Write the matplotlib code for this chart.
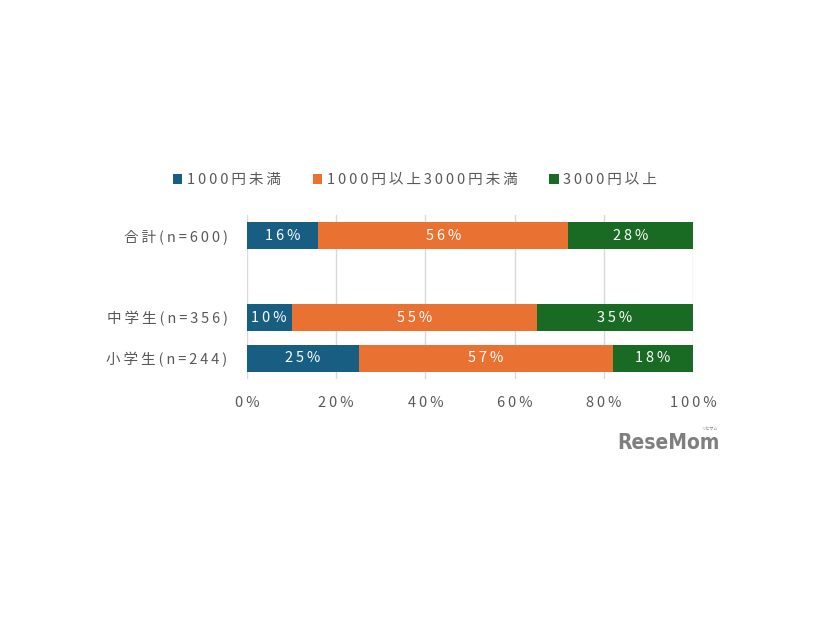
import matplotlib
matplotlib.use("Agg")
import matplotlib.pyplot as plt
from matplotlib.patches import Patch

plt.rcParams['font.family'] = ['Noto Sans CJK JP', 'DejaVu Sans']

categories = ['合計(n=600)', '中学生(n=356)', '小学生(n=244)']
positions = [3, 1, 0]
series_names = ['1000円未満', '1000円以上3000円未満', '3000円以上']
series_values = [
    [16, 10, 25],
    [56, 55, 57],
    [28, 35, 18],
]
colors = ['#175E82', '#E97132', '#196B24']
xticks = [0, 20, 40, 60, 80, 100]
xtick_labels = ['0%', '20%', '40%', '60%', '80%', '100%']

text_color = '#595959'


def sp(s):
    # letter spacing via thin spaces
    return '\u2009'.join(s)


fig = plt.figure(figsize=(8.26, 6.20), dpi=100)
ax = fig.add_axes([247/826, 1-379/620, (693-247)/826, (379-215)/620])

left = [0, 0, 0]
for name, vals, c in zip(series_names, series_values, colors):
    ax.barh(positions, vals, left=left, height=0.66, color=c, label=name, zorder=3)
    for p, v, l in zip(positions, vals, left):
        ax.text(l + v/2, p, sp(f'{v}%'), ha='center', va='center', color='white',
                fontsize=10.5, zorder=4)
    left = [a + b for a, b in zip(left, vals)]

ax.set_xlim(0, 100)
ax.set_ylim(-0.5, 3.5)
ax.set_xticks(xticks)
ax.set_xticklabels([sp(t) for t in xtick_labels])
ax.set_yticks(positions)
ax.set_yticklabels([sp(t) for t in categories])
ax.tick_params(axis='both', length=0, labelsize=10.5, labelcolor=text_color)
ax.tick_params(axis='y', pad=14)
ax.tick_params(axis='x', pad=12)
ax.grid(axis='x', color='#D9D9D9', linewidth=1, zorder=0)
for s in ax.spines.values():
    s.set_visible(False)

handles = [Patch(facecolor=c, edgecolor='none') for c in colors]
fig.legend(handles, [sp(n) for n in series_names], loc='center',
           bbox_to_anchor=(415/826, 1-180/620),
           ncol=3, frameon=False, fontsize=10.5, labelcolor=text_color,
           handlelength=0.65, handleheight=0.65, handletextpad=0.3, columnspacing=2.2)

fig.text(720/826, 1-443/620, 'ReseMom', ha='right', va='center', fontsize=15,
         fontweight='bold', color='#7f7f7f', family='DejaVu Sans', fontstretch='condensed')
fig.text(709/826, 1-429/620, 'リセマム', ha='center', va='center', fontsize=3,
         color='#7f7f7f')

fig.savefig('out.png', dpi=100)
